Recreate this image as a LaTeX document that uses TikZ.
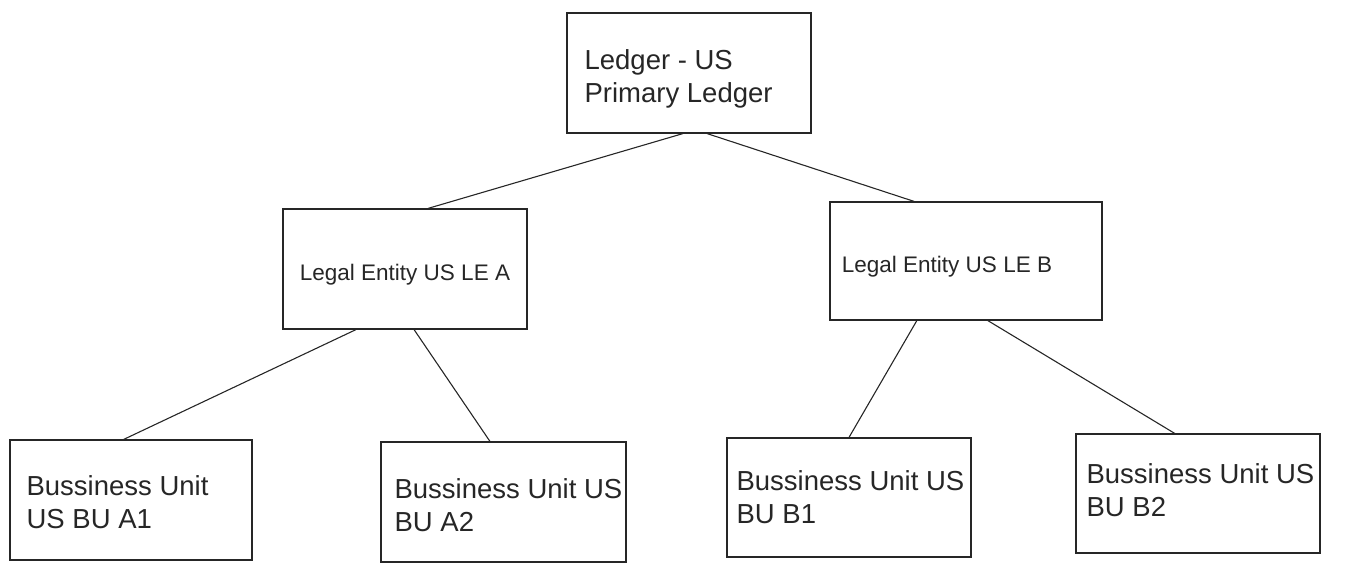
\documentclass[tikz,border=0pt]{standalone}
\usepackage{fontspec}
\setmainfont{Liberation Sans}
\usetikzlibrary{calc}
\begin{document}
\begin{tikzpicture}[x=1pt,y=-1pt,
  box/.style={draw=black!85, line width=1.2pt, inner sep=0pt, minimum height=120pt},
  bigtxt/.style={inner sep=0pt, align=left, anchor=west, text=black!85, font=\fontsize{27.5}{33}\selectfont},
  letxt/.style={inner sep=0pt, text=black!85, font=\fontsize{22.5}{27}\selectfont},
  link/.style={draw=black!85, line width=1.1pt}]
\useasboundingbox (0,0) rectangle (1352,568);
% boxes
\node[box, minimum width=244pt] (L)  at (689,73) {};
\node[box, minimum width=244pt] (LA) at (405,269) {};
\node[box, minimum width=272pt, minimum height=118pt] (LB) at (966,261) {};
\node[box, minimum width=242pt] (A1) at (131,500) {};
\node[box, minimum width=245pt] (A2) at (503.5,502) {};
\node[box, minimum width=244pt, minimum height=119pt] (B1) at (849,497.5) {};
\node[box, minimum width=244pt, minimum height=119pt] (B2) at (1198,493.5) {};
% texts
\node[bigtxt] (Lt)  at ($(L.west)+(18,6)$) {Ledger - US\\Primary Ledger};
\node[letxt]  (LAt) at ($(LA.center)+(0,6)$) {Legal Entity US LE A};
\node[letxt]  (LBt) at ($(LB.center)+(-19,6)$) {Legal Entity US LE B};
\node[bigtxt] (A1t) at ($(A1.west)+(17,2)$) {Bussiness Unit\\US BU A1};
\node[bigtxt] (A2t) at ($(A2.west)+(14,3)$) {Bussiness Unit US\\BU A2};
\node[bigtxt] (B1t) at ($(B1.west)+(10,0)$) {Bussiness Unit US\\BU B1};
\node[bigtxt] (B2t) at ($(B2.west)+(11,-3)$) {Bussiness Unit US\\BU B2};
% connectors
\draw[link] ($(L.south west)!0.475!(L.south east)$) -- ($(LA.north west)!0.594!(LA.north east)$);
\draw[link] ($(L.south west)!0.574!(L.south east)$) -- ($(LB.north west)!0.31!(LB.north east)$);
\draw[link] ($(LA.south west)!0.30!(LA.south east)$) -- ($(A1.north west)!0.47!(A1.north east)$);
\draw[link] ($(LA.south west)!0.537!(LA.south east)$) -- ($(A2.north west)!0.445!(A2.north east)$);
\draw[link] ($(LB.south west)!0.32!(LB.south east)$) -- ($(B1.north west)!0.50!(B1.north east)$);
\draw[link] ($(LB.south west)!0.58!(LB.south east)$) -- ($(B2.north west)!0.405!(B2.north east)$);
\end{tikzpicture}
\end{document}
